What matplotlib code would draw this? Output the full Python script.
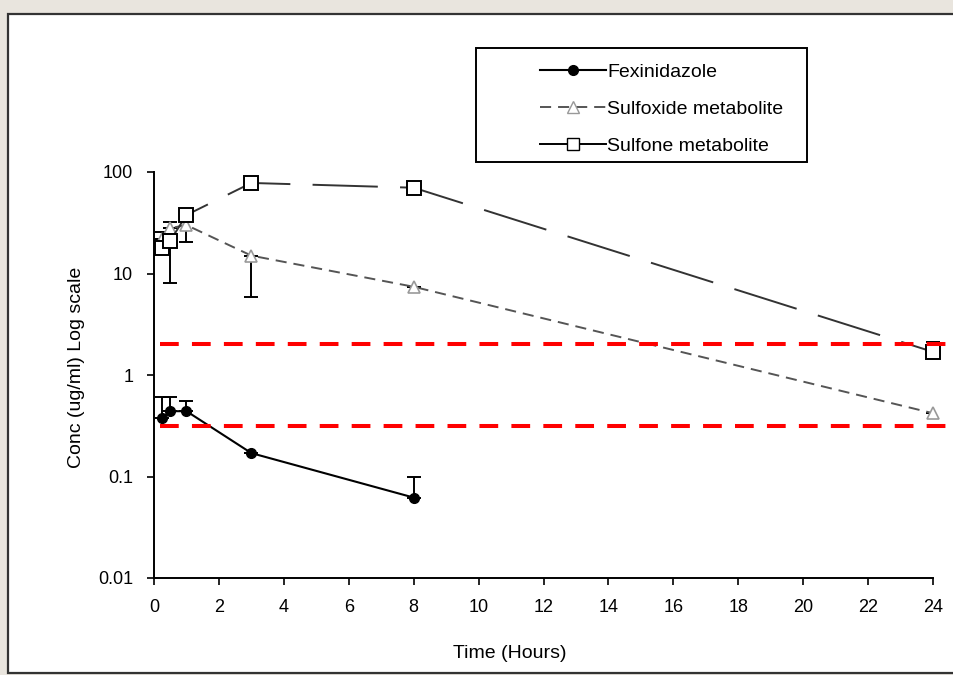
import numpy as np
import matplotlib
matplotlib.use('Agg')
import matplotlib.pyplot as plt
from matplotlib.lines import Line2D
from matplotlib.patches import Rectangle

plt.rcParams['font.family'] = ['Liberation Sans', 'DejaVu Sans']
plt.rcParams['lines.scale_dashes'] = False

# data
time_fex = [0.25, 0.5, 1, 3, 8]
conc_fex = [0.38, 0.44, 0.44, 0.17, 0.062]
upper_fex = [0.61, 0.61, 0.55, np.nan, 0.10]

time_sox = [0.25, 0.5, 1, 3, 8, 24]
conc_sox = [22, 28, 30, 15, 7.4, 0.42]
lower_sox = [np.nan, np.nan, 20.4, 5.9, np.nan, np.nan]
upper_sox = [np.nan, np.nan, 33, np.nan, np.nan, np.nan]

time_son = [0.25, 0.5, 1, 3, 8, 24]
conc_son = [17.8, 21, 37.7, 78, 70, 1.69]
lower_son = [np.nan, 8.1, np.nan, np.nan, np.nan, np.nan]
upper_son = [25.5, 32, np.nan, np.nan, np.nan, 2.1]

thresholds = [2.0, 0.315]

xticks = list(range(0, 25, 2))
yticks = [0.01, 0.1, 1, 10, 100]
yticklabels = ['0.01', '0.1', '1', '10', '100']

fig = plt.figure(figsize=(9.54, 6.75), dpi=100)
fig.patch.set_facecolor('#e9e5de')
W, H = 954, 675

# white panel with frame
fig.patches.append(Rectangle((8 / W, 1 - 673 / H), 1.0, (673 - 14) / H,
                             transform=fig.transFigure, facecolor='white',
                             edgecolor='#333333', linewidth=1.6, zorder=-10))

ax = fig.add_axes([154 / W, 1 - 578 / H, (933 - 154) / W, (578 - 172) / H])
ax.set_facecolor('none')
ax.set_yscale('log')
ax.set_xlim(0, 24)
ax.set_ylim(0.01, 100)


def err(conc, lo, up):
    conc = np.array(conc, dtype=float)
    lo = np.array(lo, dtype=float)
    up = np.array(up, dtype=float)
    return np.vstack([np.nan_to_num(conc - lo), np.nan_to_num(up - conc)])


ax.errorbar(time_fex, conc_fex, yerr=err(conc_fex, [np.nan] * 5, upper_fex),
            fmt='none', ecolor='black', elinewidth=1.4, capsize=5, capthick=1.4, zorder=3)
ax.errorbar(time_sox, conc_sox, yerr=err(conc_sox, lower_sox, upper_sox),
            fmt='none', ecolor='black', elinewidth=1.4, capsize=5, capthick=1.4, zorder=3)
ax.errorbar(time_son, conc_son, yerr=err(conc_son, lower_son, upper_son),
            fmt='none', ecolor='black', elinewidth=1.4, capsize=5, capthick=1.4, zorder=3,
            clip_on=False)

ax.plot(time_fex, conc_fex, color='black', lw=1.5, marker='o', ms=7,
        mfc='black', mec='black', zorder=4, clip_on=False)
ax.plot(time_sox, conc_sox, color='#555555', lw=1.4, dashes=(8, 5), marker='^', ms=9,
        mfc='white', mec='#999999', mew=1.2, zorder=4, clip_on=False)
ax.plot(time_son, conc_son, color='#333333', lw=1.4, dashes=(47, 16), marker='s', ms=10,
        mfc='white', mec='black', mew=1.4, zorder=5, clip_on=False)

for t in thresholds:
    ax.plot([0.008, 1.03], [t, t], transform=ax.get_yaxis_transform(), color='#ff0000',
            lw=2.9, dashes=(13.5, 9.5), clip_on=False, zorder=6)

ax.spines['top'].set_visible(False)
ax.spines['right'].set_visible(False)
for s in ['left', 'bottom']:
    ax.spines[s].set_linewidth(1.4)
ax.set_xticks(xticks)
ax.set_xticklabels([str(v) for v in xticks])
ax.set_yticks(yticks)
ax.set_yticklabels(yticklabels)
ax.minorticks_off()
ax.tick_params(axis='both', direction='out', length=5, width=1.2, labelsize=13,
               colors='black')
ax.tick_params(axis='x', pad=10)
ax.tick_params(axis='y', pad=10)
ax.set_xlabel('Time (Hours)', fontsize=14)
ax.set_ylabel('Conc (ug/ml) Log scale', fontsize=14)
ax.xaxis.set_label_coords(0.457, -0.165)
ax.yaxis.set_label_coords(-0.089, 0.52)

# legend box
fig.patches.append(Rectangle((476 / W, 1 - 162 / H), (807 - 476) / W, (162 - 48) / H,
                             transform=fig.transFigure, facecolor='white',
                             edgecolor='black', linewidth=1.4, zorder=1))
handles = [
    Line2D([], [], color='black', lw=1.5, marker='o', ms=7, mfc='black'),
    Line2D([], [], color='#555555', lw=1.4, dashes=(8, 5), marker='^', ms=9,
           mfc='white', mec='#999999'),
    Line2D([], [], color='black', lw=1.4, marker='s', ms=9, mfc='white', mec='black'),
]
labels = ['Fexinidazole', 'Sulfoxide metabolite', 'Sulfone metabolite']
fig.legend(handles, labels, loc='upper left', bbox_to_anchor=(540 / W, 1 - 63 / H),
           frameon=False, fontsize=14, handlelength=3.4, handletextpad=0.05,
           labelspacing=1.0, borderpad=0, borderaxespad=0)

fig.savefig('out.png', dpi=100, facecolor=fig.get_facecolor())
